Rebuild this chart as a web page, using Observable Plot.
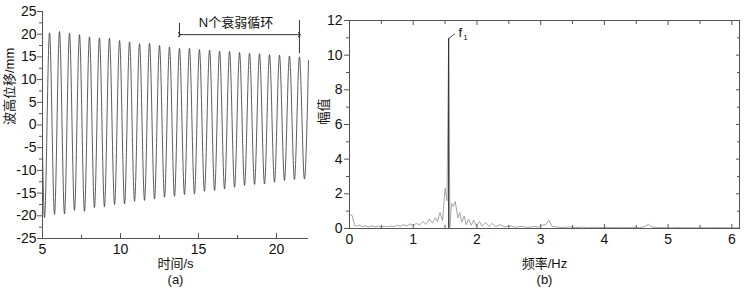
<!DOCTYPE html>
<html><head><meta charset="utf-8">
<script src="https://cdn.jsdelivr.net/npm/d3@7"></script>
<script src="https://cdn.jsdelivr.net/npm/@observablehq/plot@0.6"></script>
<style>
body{margin:0;background:#fff;}
#wrap{position:relative;width:744px;height:297px;overflow:hidden;}
#a{position:absolute;left:0;top:0}
#b{position:absolute;left:310px;top:0}
</style></head><body><div id="wrap"><div id="a"></div><div id="b"></div></div>
<script>
// ---- panel (a): wave record, read as successive troughs and crests ----
const troughT = [5.13,5.77,6.41,7.05,7.69,8.33,8.97,9.62,10.26,10.90,11.54,12.18,12.82,13.46,14.10,14.74,15.38,16.03,16.67,17.31,17.95,18.59,19.23,19.87,20.51,21.15,21.79];
const troughV = [-20.4,-19.7,-19.6,-18.8,-19.0,-18.2,-18.0,-17.5,-17.4,-16.8,-16.6,-16.3,-15.9,-15.7,-15.3,-15.2,-14.6,-14.4,-14.1,-13.7,-13.3,-13.1,-13.0,-12.6,-12.2,-12.0,-11.9];
const peakT = [5.45,6.09,6.73,7.37,8.01,8.65,9.29,9.94,10.58,11.22,11.86,12.50,13.14,13.78,14.42,15.06,15.71,16.35,16.99,17.63,18.27,18.91,19.55,20.19,20.83,21.47];
const peakV = [20.3,20.6,20.2,19.9,19.4,19.2,19.1,18.6,18.3,17.9,18.0,17.5,17.2,16.9,16.9,16.6,16.5,16.3,16.2,16.0,15.8,15.7,15.5,15.4,15.2,15.0];
const edgeT = [5.0, 22.05];
const edgeV = [-6, 14.2];
const xTicksA = [5,10,15,20];
const xMinorA = [7.5,12.5,17.5];
const yTicksA = [-25,-20,-15,-10,-5,0,5,10,15,20,25];
const yMinorA = [-22.5,-17.5,-12.5,-7.5,-2.5,2.5,7.5,12.5,17.5,22.5];
const annoText = ["N个衰弱循环"];
const annoTextT = [17.4], annoTextV = [22.4];
const annoArrowT = [13.78, 21.47], annoArrowV = 19.9;
const annoBarT = [13.78, 21.47], annoBarTop = [22.4, 23.0], annoBarBot = [19.3, 15.7];

// ---- panel (b): amplitude spectrum ----
const specFreq = [0,0.04,0.08,0.12,0.16,0.2,0.25,0.3,0.35,0.4,0.45,0.5,0.55,0.6,0.65,0.7,0.75,0.8,0.85,0.9,0.95,1.0,1.05,1.1,1.15,1.2,1.25,1.3,1.35,1.38,1.42,1.46,1.5,1.53,1.556,1.575,1.6,1.63,1.66,1.7,1.73,1.76,1.8,1.83,1.87,1.91,1.95,1.99,2.04,2.08,2.14,2.19,2.24,2.29,2.36,2.44,2.52,2.6,2.7,2.8,2.9,2.97,3.03,3.08,3.13,3.18,3.25,3.35,3.45,3.55,3.65,3.75,3.85,3.95,4.05,4.15,4.25,4.35,4.45,4.55,4.63,4.69,4.75,4.85,4.95,5.05,5.15,5.25,5.35,5.45,5.55,5.65,5.75,5.85,5.95,6.05,6.12];
const specAmp  = [0.80,0.76,0.18,0.14,0.20,0.10,0.16,0.09,0.15,0.10,0.14,0.09,0.13,0.10,0.14,0.11,0.18,0.13,0.22,0.15,0.26,0.17,0.30,0.20,0.40,0.24,0.55,0.32,0.62,0.40,0.92,0.45,2.32,1.60,10.95,0.05,1.45,1.28,1.55,0.62,0.92,0.38,0.72,0.22,0.55,0.18,0.48,0.15,0.40,0.14,0.35,0.12,0.30,0.10,0.22,0.09,0.16,0.07,0.13,0.06,0.12,0.07,0.20,0.22,0.46,0.12,0.09,0.06,0.09,0.05,0.08,0.05,0.07,0.05,0.07,0.05,0.07,0.05,0.06,0.05,0.10,0.24,0.08,0.05,0.06,0.04,0.06,0.04,0.05,0.04,0.05,0.04,0.05,0.04,0.05,0.04,0.05];
const f1Freq = 1.556, f1Amp = 10.95;
const f1LabelF = [1.556, 1.65], f1LabelA = [10.95, 11.23];
const xTicksB = [0,1,2,3,4,5,6];
const xMinorB = [0.5,1.5,2.5,3.5,4.5,5.5];
const yTicksB = [0,2,4,6,8,10,12];
const yMinorB = [1,3,5,7,9,11];

const FONT = '"Liberation Sans","Noto Sans CJK SC",Arial,sans-serif';
const AX = "#555";

// build tables
const wave = [];
edgeT.forEach((t,i)=>wave.push({t, v: edgeV[i]}));
troughT.forEach((t,i)=>wave.push({t, v: troughV[i]}));
peakT.forEach((t,i)=>wave.push({t, v: peakV[i]}));
wave.sort((a,b)=>a.t-b.t);
const spec = specFreq.map((f,i)=>({f, a: specAmp[i]}));
const blank = () => "";
const plain = d => String(d);

const plotA = Plot.plot({
  width: 310, height: 297,
  marginLeft: 42, marginRight: 2, marginTop: 11, marginBottom: 59,
  style: {fontFamily: FONT, fontSize: "14px", color: "#111", background: "white", overflow: "visible"},
  x: {domain: [5, 22.05]},
  y: {domain: [-25, 25]},
  marks: [
    Plot.line(wave, {x: "t", y: "v", curve: "monotone-x", stroke: "#333", strokeWidth: 0.8}),
    Plot.ruleX([5], {stroke: AX}),
    Plot.ruleY([-25], {stroke: AX}),
    Plot.axisY({ticks: yTicksA, tickSize: 5, tickPadding: 1, tickFormat: plain, label: null, stroke: AX}),
    Plot.axisY({ticks: yMinorA, tickSize: 3, tickFormat: blank, label: null, stroke: AX}),
    Plot.axisX({ticks: xTicksA, tickSize: 0, tickPadding: 6, tickFormat: plain, label: null}),
    Plot.axisX({ticks: xTicksA, tickSize: -5, tickFormat: blank, label: null, stroke: AX}),
    Plot.axisX({ticks: xMinorA, tickSize: -3, tickFormat: blank, label: null, stroke: AX}),
    // annotation
    Plot.ruleX(annoBarT, {x: d=>d, y1: (d,i)=>annoBarBot[i], y2: (d,i)=>annoBarTop[i], stroke: "#333", strokeWidth: 1}),
    Plot.link([annoArrowT], {x1: d=>d[0], x2: d=>d[1], y1: annoArrowV, y2: annoArrowV, stroke: "#333", strokeWidth: 1, markerStart: "arrow", markerEnd: "arrow"}),
    Plot.text(annoText, {x: annoTextT, y: annoTextV, text: d=>d, fontSize: 13, fill: "#111"}),
    // axis titles
    Plot.text(["波高位移/mm"], {frameAnchor: "left", text: d=>d, rotate: -90, dx: -33, fontSize: 13, fill: "#111"}),
    Plot.text(["时间/s"], {frameAnchor: "bottom", text: d=>d, dy: 29, fontSize: 13, fill: "#111"}),
    Plot.text(["(a)"], {frameAnchor: "bottom", text: d=>d, dy: 45, fontSize: 13, fill: "#111"})
  ]
});
document.getElementById("a").appendChild(plotA);

const plotB = Plot.plot({
  width: 434, height: 297,
  marginLeft: 39, marginRight: 5, marginTop: 20, marginBottom: 69,
  style: {fontFamily: FONT, fontSize: "14px", color: "#111", background: "white", overflow: "visible"},
  x: {domain: [0, 6.12]},
  y: {domain: [0, 12]},
  marks: [
    Plot.line(spec, {x: "f", y: "a", stroke: "#9a9a9a", strokeWidth: 0.9}),
    Plot.ruleX([f1Freq], {y1: 0, y2: f1Amp, stroke: "#222", strokeWidth: 1}),
    Plot.line(f1LabelF.map((f,i)=>({f, a: f1LabelA[i]})), {x: "f", y: "a", stroke: "#222", strokeWidth: 0.8}),
    Plot.text(["f"], {x: [1.74], y: [11.3], text: d=>d, fontSize: 13, fill: "#111"}),
    Plot.text(["1"], {x: [1.74], y: [11.3], text: d=>d, dx: 5, dy: 5, fontSize: 8, fill: "#111"}),
    Plot.frame({stroke: AX}),
    Plot.axisY({ticks: yTicksB, tickSize: 5, tickPadding: 2, tickFormat: plain, label: null, stroke: AX}),
    Plot.axisY({ticks: yMinorB, tickSize: 3, tickFormat: blank, label: null, stroke: AX}),
    Plot.axisY({anchor: "right", ticks: yTicksB, tickSize: -4, tickFormat: blank, label: null, stroke: AX}),
    Plot.axisY({anchor: "right", ticks: yMinorB, tickSize: -3, tickFormat: blank, label: null, stroke: AX}),
    Plot.axisX({ticks: xTicksB, tickSize: 0, tickPadding: 6, tickFormat: plain, label: null}),
    Plot.axisX({ticks: xTicksB, tickSize: -4, tickFormat: blank, label: null, stroke: AX}),
    Plot.axisX({ticks: xMinorB, tickSize: -3, tickFormat: blank, label: null, stroke: AX}),
    Plot.axisX({anchor: "top", ticks: xTicksB, tickSize: -4, tickFormat: blank, label: null, stroke: AX}),
    Plot.axisX({anchor: "top", ticks: xMinorB, tickSize: -3, tickFormat: blank, label: null, stroke: AX}),
    Plot.text(["幅值"], {frameAnchor: "left", text: d=>d, rotate: -90, dx: -26, fontSize: 13, fill: "#111"}),
    Plot.text(["频率/Hz"], {frameAnchor: "bottom", text: d=>d, dy: 39, fontSize: 13, fill: "#111"}),
    Plot.text(["(b)"], {frameAnchor: "bottom", text: d=>d, dy: 55, fontSize: 13, fill: "#111"})
  ]
});
document.getElementById("b").appendChild(plotB);
</script>
</body></html>
